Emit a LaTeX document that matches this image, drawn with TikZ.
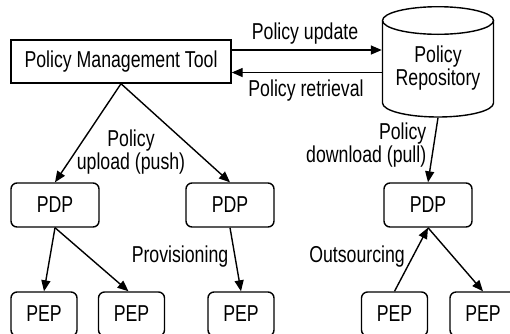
\documentclass[tikz,border=0pt]{standalone}
\usepackage{fontspec}
\setmainfont[FakeStretch=0.77]{Liberation Sans}
\usetikzlibrary{arrows.meta}
\begin{document}
\begin{tikzpicture}[x=1pt,y=-1pt,
  font=\fontsize{23}{23}\selectfont,
  line width=1.4pt,
  sqbox/.style={draw, rectangle, inner sep=0pt, minimum width=220pt, minimum height=43pt},
  rbox/.style={draw, rounded corners=6pt, minimum width=88pt, minimum height=44pt, inner sep=0pt},
  pepbox/.style={rbox, minimum width=66pt},
  arr/.style={-{Triangle[length=11pt,width=9pt]}},
  lbl/.style={inner sep=0pt, align=center}]
\useasboundingbox (0,0) rectangle (510,333);

% Policy Management Tool
\node[sqbox] (pmt) at (121,61.5) {Policy Management Tool};

% Repository cylinder
\node[inner sep=0pt, minimum width=111pt, minimum height=110pt] (repo) at (438,62) {};
\draw (438,20.5) ellipse [x radius=55.5pt, y radius=13.8pt];
\draw (382.5,20.5) -- (382.5,103) arc[start angle=180, end angle=360, x radius=55.5pt, y radius=14pt] -- (493.5,20.5);
\node[lbl] (repotext) at (438,68) {Policy\\Repository};

% PDPs
\node[rbox] (pdp1) at (55,205) {PDP};
\node[rbox] (pdp2) at (230,205) {PDP};
\node[rbox] (pdp3) at (428,205) {PDP};

% PEPs
\node[pepbox] (pep1) at (44,314) {PEP};
\node[pepbox] (pep2) at (131.5,314) {PEP};
\node[pepbox] (pep3) at (241,314) {PEP};
\node[pepbox] (pep4) at (394.5,314) {PEP};
\node[pepbox] (pep5) at (483,314) {PEP};

% connectors
\draw[arr] ([yshift=11.5pt]pmt.east) -- ([yshift=12pt]repo.west);
\draw[arr] ([yshift=-10.5pt]repo.west) -- ([yshift=-11pt]pmt.east);
\draw[arr] (pmt.south) -- (pdp1.north);
\draw[arr] (pmt.south) -- (pdp2.north);
\draw[arr] (repo.south) -- (pdp3.north);
\draw[arr] (pdp1.south) -- (pep1.north);
\draw[arr] (pdp1.south) -- ([xshift=-3pt]pep2.north);
\draw[arr] (pdp2.south) -- (pep3.north);
\draw[arr] (pep4.north) -- (pdp3.south);
\draw[arr] (pdp3.south) -- (pep5.north);

% labels
\node[lbl] (lupd) at (305,34) {Policy update};
\node[lbl] (lret) at (306,91) {Policy retrieval};
\node[lbl] (lpush) at (131,152) {Policy\\upload (push)};
\node[lbl, align=right, anchor=east] (lpull) at (427,145) {Policy\\download (pull)};
\node[lbl] (lprov) at (180,257) {Provisioning};
\node[lbl] (lout) at (357,257) {Outsourcing};
\end{tikzpicture}
\end{document}
